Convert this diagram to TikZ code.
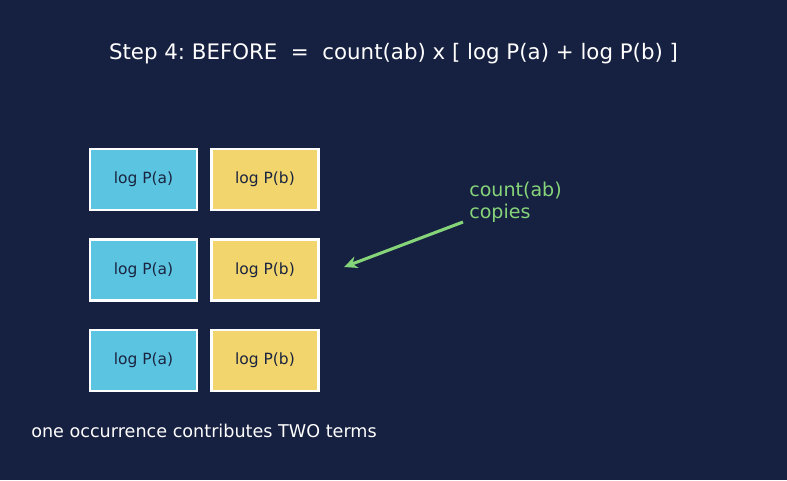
\documentclass[tikz,border=0pt]{standalone}
\usepackage{fontspec}
\usetikzlibrary{arrows.meta}
\setmainfont{DejaVu Sans}
\frenchspacing
\definecolor{bg}{HTML}{162040}
\definecolor{boxa}{HTML}{5BC4E0}
\definecolor{boxb}{HTML}{F2D56C}
\definecolor{boxtext}{HTML}{1A2440}
\definecolor{gr}{HTML}{86D47A}
\tikzset{
  termbox/.style={draw=white, line width=1.8pt, minimum width=80.25pt, minimum height=45.75pt, inner sep=0pt, text=boxtext, font=\fontsize{11.6pt}{13pt}\selectfont},
  abox/.style={termbox, fill=boxa},
  bbox/.style={termbox, fill=boxb},
}
\begin{document}
\begin{tikzpicture}[x=0.75pt,y=-0.75pt]
\fill[bg] (0,0) rectangle (787,480);
\useasboundingbox (0,0) rectangle (787,480);
\node[text=white, font=\fontsize{16pt}{19pt}\selectfont] (title) at (393.5,53.5) {Step 4: BEFORE\ \ =\ \ count(ab) x [ log P(a) + log P(b) ]};
\node[abox] (a1) at (143.5,179.5) {log P(a)};
\node[bbox] (b1) at (265,179.5) {log P(b)};
\node[abox] (a2) at (143.5,270) {log P(a)};
\node[bbox] (b2) at (265,270) {log P(b)};
\node[abox] (a3) at (143.5,360.5) {log P(a)};
\node[bbox] (b3) at (265,360.5) {log P(b)};
\node[text=gr, anchor=west, align=left, inner sep=0pt, font=\fontsize{14.3pt}{16.8pt}\selectfont] (lbl) at (469,202) {count(ab)\\copies};
\coordinate (s) at (463,222);
\coordinate (e) at (344,267);
\draw[gr, line width=2.3pt, -{Stealth[length=10pt,width=9pt]}] (s) -- (e);
\node[text=white, anchor=west, inner sep=0pt, font=\fontsize{13.2pt}{15pt}\selectfont] (foot) at (31,431) {one occurrence contributes TWO terms};
\end{tikzpicture}
\end{document}
